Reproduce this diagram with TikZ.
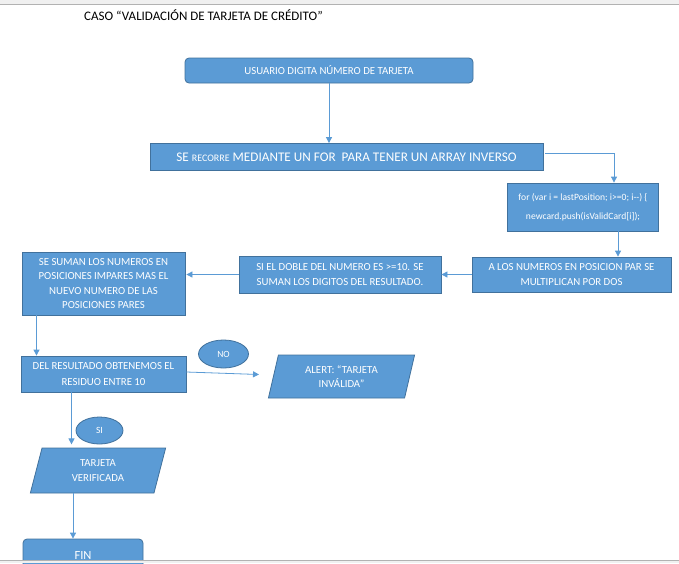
\documentclass[tikz,border=0pt]{standalone}
\usepackage{fontspec}
\setmainfont{Carlito}
\usetikzlibrary{arrows.meta,shapes.geometric}
\definecolor{boxblue}{HTML}{5B9BD5}
\definecolor{boxedge}{HTML}{41719C}
\definecolor{pagegray}{HTML}{F0F0F0}

\begin{document}
\begin{tikzpicture}[
   x=1pt, y=-1pt, >={Triangle[length=6pt,width=6pt]},
   font=\fontsize{10.8}{14.5}\selectfont,
   box/.style={draw=boxedge, fill=boxblue, text=white, align=center,
               inner sep=2pt, line width=0.8pt},
   startbox/.style={box, rounded corners=4pt},
   iobox/.style={box, trapezium, trapezium stretches=true,
                 trapezium left angle=77, trapezium right angle=103},
   tag/.style={box, ellipse, inner sep=0pt, font=\fontsize{9.5}{11}\selectfont},
   link/.style={->, draw=boxblue, line width=0.8pt}]
  \useasboundingbox (0,0) rectangle (679,563);
  \node[anchor=west, inner sep=0pt, font=\fontsize{13}{15}\selectfont] (title) at (84,15)
       {CASO “VALIDACIÓN DE TARJETA DE CRÉDITO”};
  \node[startbox, minimum width=288, minimum height=25] (input) at (329,70.5)
       {USUARIO DIGITA NÚMERO DE TARJETA};
  \node[box, minimum width=393, minimum height=27, font=\fontsize{13.2}{15}\selectfont]
       (loop) at (346.5,157)
       {SE {\fontsize{10}{12}\selectfont RECORRE} MEDIANTE UN FOR\ \ PARA TENER UN ARRAY INVERSO};
  \node[box, minimum width=151, minimum height=48, font=\fontsize{9.6}{11.5}\selectfont]
       (code) at (583,207)
       {for (var i = lastPosition; i>=0; i-{}-) \{\\[7.5pt] newcard.push(isValidCard[i]);};
  \node[box, minimum width=199, minimum height=35] (pair) at (571.5,274.5)
       {A LOS NUMEROS EN POSICION PAR SE\\ MULTIPLICAN POR DOS};
  \node[box, minimum width=202, minimum height=37] (double) at (340,274.5)
       {SI EL DOBLE DEL NUMERO ES >=10. SE\\ SUMAN LOS DIGITOS DEL RESULTADO.};
  \node[box, minimum width=163, minimum height=63] (sum) at (103.5,283.5)
       {SE SUMAN LOS NUMEROS EN\\ POSICIONES IMPARES MAS EL\\ NUEVO NUMERO DE LAS\\ POSICIONES PARES};
  \node[box, minimum width=165, minimum height=36, font=\fontsize{10.8}{16}\selectfont]
       (mod) at (103.5,374)
       {DEL RESULTADO OBTENEMOS EL\\ RESIDUO ENTRE 10};
  \node[tag, minimum width=50, minimum height=28] (no) at (223.5,354) {NO};
  \node[iobox, minimum width=147, minimum height=43] (alert) at (341.5,376.5)
       {ALERT: “TARJETA\\ INVÁLIDA”};
  \node[tag, minimum width=47, minimum height=27] (yes) at (99.5,430.5) {SI};
  \node[iobox, minimum width=136, minimum height=45] (valid) at (98,470.5)
       {TARJETA\\ VERIFICADA};
  \node[startbox, minimum width=120, minimum height=32, font=\fontsize{12.5}{14}\selectfont]
       (fin) at (83,555) {FIN};
  % connectors
  \draw[link] (input.south) -- (input.south |- loop.north);
  \draw[link] ([xshift=2pt,yshift=4pt]loop.east) -| ([xshift=31pt]code.north);
  \draw[link] ([xshift=35pt]code.south) -- ([xshift=35pt]code.south |- pair.north);
  \draw[link] (pair.west) -- (double.east);
  \draw[link] (double.west) -- ([xshift=1pt]sum.east |- double.west);
  \draw[link] ([xshift=-67pt]sum.south) -- ([xshift=-67pt]sum.south |- mod.north);
  \draw[link] ([yshift=2pt]mod.east) -- ([xshift=-14pt,yshift=2pt]alert.west);
  \draw[link] ([xshift=-32pt]mod.south) -- ([xshift=-32pt]mod.south |- yes.south);
  \draw[link] ([xshift=-25pt]valid.south) -- ([xshift=-25pt]valid.south |- fin.north);
  % page edges
  \fill[pagegray] (0,0) rectangle (679,4);
  \draw[gray!60] (0,4) -- (679,4);
  \fill[pagegray] (0,560) rectangle (679,563);
  \draw[gray!60] (0,560) -- (679,560);
\end{tikzpicture}
\end{document}
